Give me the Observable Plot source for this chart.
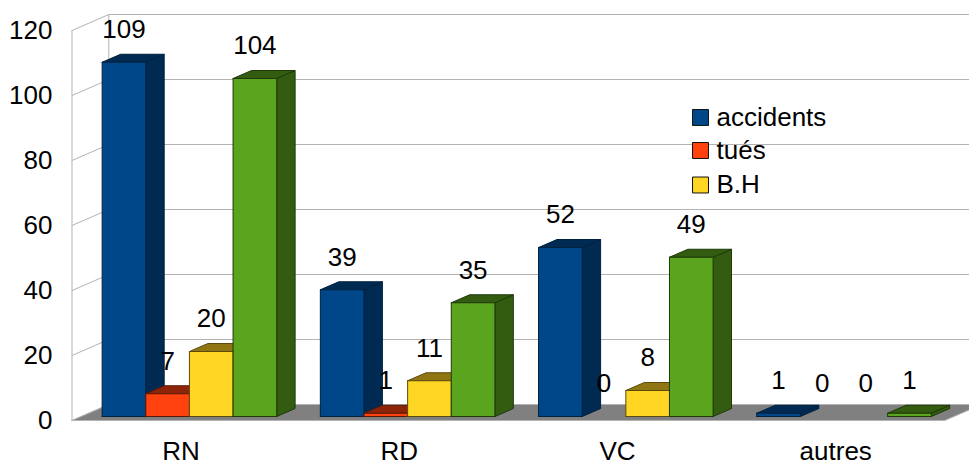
<!DOCTYPE html>
<html>
<head>
<meta charset="utf-8">
<script src="https://cdn.jsdelivr.net/npm/d3@7"></script>
<script src="https://cdn.jsdelivr.net/npm/@observablehq/plot@0.6"></script>
<style>html,body{margin:0;padding:0;background:#fff;overflow:hidden}</style>
</head>
<body>
<div id="chart"></div>
<script>
const categories = ["RN", "RD", "VC", "autres"];
const seriesNames = ["accidents", "tués", "B.H", "série 4"];
const accidents = [109, 39, 52, 1];
const tues = [7, 1, 0, 0];
const bh = [20, 11, 8, 0];
const serie4 = [104, 35, 49, 1];
const seriesValues = [accidents, tues, bh, serie4];
const yTicks = [0, 20, 40, 60, 80, 100, 120];
const frontColors = ["#00478a", "#ff420e", "#ffd623", "#5ba41e"];
const darkColors = ["#002a52", "#8f2508", "#8f7612", "#335c10"];
const edgeColors = ["#00213f", "#5a1806", "#5a4b0c", "#1f380a"];
const legendEntries = [0, 1, 2];

// oblique projection: depth z (0 front .. 1 back) shifts x (category units) and y (value units)
const DEPTH_X = 0.1687, DEPTH_Y = 4.92;
const BAR_START = 0.096;
const pt = (x, v, z) => ({x: x + z * DEPTH_X, y: v + z * DEPTH_Y});

const floor = [[0,0,0],[4,0,0],[4,0,1],[0,0,1],[0,0,0]].map(([x,v,z]) => pt(x,v,z));
const gridRows = yTicks.flatMap(v => [
  {id: v, ...pt(0, v, 0)}, {id: v, ...pt(0, v, 1)}, {id: v, ...pt(4.3, v, 1)}
]);
const walls = [
  {id: "f", ...pt(0, 0, 0)}, {id: "f", ...pt(0, 120, 0)},
  {id: "b", ...pt(0, 0, 1)}, {id: "b", ...pt(0, 120, 1)}
];

const faces = [], labels = [];
categories.forEach((c, i) => {
  seriesValues.forEach((vals, s) => {
    const v = vals[i];
    const x0 = i + BAR_START + s * 0.2, x1 = x0 + 0.2;
    labels.push({x: x0 + 0.1 + 0.25 * DEPTH_X, y: 0.25 * DEPTH_Y + v, v});
    if (v === 0) return;
    const add = (name, pts, fill, stroke) => pts.forEach(p =>
      faces.push({id: `${i}-${s}-${name}`, fill, stroke, ...pt(p[0], p[1], p[2])}));
    const dark = darkColors[s], edge = edgeColors[s];
    add("side", [[x1,0,.25],[x1,v,.25],[x1,v,.75],[x1,0,.75],[x1,0,.25]], dark, edge);
    add("top", [[x0,v,.25],[x1,v,.25],[x1,v,.75],[x0,v,.75],[x0,v,.25]], dark, edge);
    add("front", [[x0,0,.25],[x1,0,.25],[x1,v,.25],[x0,v,.25],[x0,0,.25]], frontColors[s], edge);
  });
});

const FS = 26;
const legendMarks = legendEntries.flatMap((s, k) => {
  const ys = [87, 120, 154.5][k];
  return [
    Plot.dot([s], {frameAnchor: "top-left", dx: 700 - 71.5, dy: ys, symbol: "square", r: 9,
      fill: frontColors[s], stroke: "#111", strokeWidth: 1}),
    Plot.text([seriesNames[s]], {frameAnchor: "top-left", dx: 716 - 71.5, dy: ys, text: d => d,
      textAnchor: "start", lineAnchor: "middle", fontSize: FS, fill: "#000"})
  ];
});

const chart = Plot.plot({
  width: 969, height: 462,
  marginLeft: 71.5, marginRight: 24.7, marginTop: 30, marginBottom: 42,
  style: {fontFamily: "'Liberation Sans', Arial, sans-serif", background: "#fff", overflow: "visible"},
  x: {domain: [0, 4], label: null},
  y: {domain: [0, 120], label: null},
  color: {type: "identity"},
  marks: [
    Plot.line(gridRows, {x: "x", y: "y", z: "id", stroke: "#b3b3b3", strokeWidth: 1}),
    Plot.line(walls, {x: "x", y: "y", z: "id", stroke: "#b3b3b3", strokeWidth: 1}),
    Plot.line(floor, {x: "x", y: "y", fill: "#808080", stroke: "#b3b3b3", strokeWidth: 1}),
    Plot.line(faces, {x: "x", y: "y", z: "id", fill: "fill", stroke: "stroke", strokeWidth: 1}),
    Plot.axisY({ticks: yTicks, tickSize: 0, tickPadding: 19.5, fontSize: FS, label: null, color: "#000"}),
    Plot.axisX({ticks: [0.5, 1.5, 2.5, 3.5], tickFormat: d => categories[d - 0.5], tickSize: 0,
      tickPadding: 21.5, fontSize: FS, label: null, color: "#000"}),
    Plot.text(labels, {x: "x", y: "y", text: d => String(d.v), dy: -32.5, fontSize: FS, fill: "#000", lineAnchor: "middle"}),
    ...legendMarks
  ]
});
document.getElementById("chart").append(chart);
</script>
</body>
</html>
